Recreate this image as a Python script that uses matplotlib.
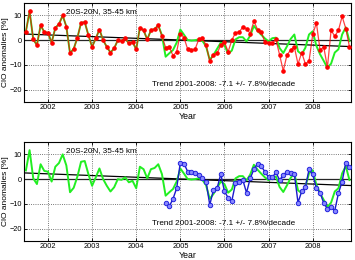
import matplotlib
matplotlib.use('Agg')
import matplotlib.pyplot as plt
import numpy as np

plt.rcParams['font.family'] = ['Liberation Sans', 'DejaVu Sans']

# monthly time axis (decimal years)
START_YEAR = 2001.5
N_MONTHS = 89
years = START_YEAR + np.arange(N_MONTHS) / 12.0

# top panel, red series
red_vals = [3.5, 11.7, 0.3, -2, 6, 3.3, 3, -1, 5, 6.5,
            10, 5.5, -5.3, -3.5, 1, 7, 7.3, 2, -2.7, 0.7,
            4.3, 0, -2.7, -5, -3.3, 0, -0.3, 0.7, -1.3, -0.7,
            -3.7, 5, 4, 0.3, 4, 4.5, 6, 1.6, -3, -2.7,
            -6.3, -4.7,
            2.7, 1, -3.7, -4, -3.7, 0.3, 0.7, -2, -8.4, -6,
            -5.3, -2, -0.7, -4.7, 0, 3, 3.3, 5.3, 4.7, 2.7,
            7.7, 4.3, 3.3, -0.8, -1, -1.3, 0.3, -6, -12.4, -6,
            -4, -2.7, -9.7, -5, -9.6, -8.5, 2.3, 7, -4, -2.7,
            -11, 4, 1.6, 4, 9.6, 4.7, -2.7]

# green series (both panels)
green_vals = [3.5, 11.7, 0.3, -2, 6, 3.3, 3, -1, 5, 6.5,
              10, 5.5, -5.3, -3.5, 1, 7, 7.3, 2, -2.7, 0.7,
              4.3, 0, -2.7, -5, -3.3, 0, -0.3, 0.7, -1.3, -0.7,
              -3.7, 5, 4, 0.3, 4, 4.5, 6, 2, -6.7, -5.3,
              -4, -1,
              4.3, 2.2, 0, -0.2, 0, 0.3, -0.3, -2.5, -8, -6,
              -3.5, -1, -2, -5.5, -4.2, 0.3, 1.2, 1.2, -0.5, 1.8,
              5.8, 3.8, 2.2, 0.7, -0.5, 0.8, 1, -3.2, -5.2, -2.5,
              0.5, 2.3, -4.5, -5.7, -3.1, 2.3, 3.6, -2.3, -5.7, -8.4,
              -11.2, -9.5, -5, -3.7, 2.3, 5.2, -0.4]

# bottom panel, blue series (starts later)
BLUE_START = 38
blue_vals = [-9.7, -11, -8, -3.7,
             6.7, 6.3, 3, 2.8, 2.6, 1.7, 0.3, -1, -10.4, -4.4,
             -3.7, 2.1, -5, -7.5, -8.8, -1.7, -1, -0.4, -5.5, 0.3,
             3.9, 6.3, 5.2, 3, 0.7, 0.7, 2.7, -0.4, 1.6, 3,
             2.3, 2.1, -9.5, -5, -3.3, 3.9, 1.9, -3.7, -5.5, -9.7,
             -12, -11.3, -12.7, -5.7, -1, 6.7, 4.7]

# trend line end points
trend_x = [2001.46, 2008.87]
trend_y = [2.5, -2.6]

region_label = '20S-20N, 35-45 km'
trend_label = 'Trend 2001-2008: -7.1 +/- 7.8%/decade'
xticks = [2002, 2003, 2004, 2005, 2006, 2007, 2008]
yticks = [-20, -10, 0, 10]

fig = plt.figure(figsize=(3.55, 2.60), dpi=100)
ax1 = fig.add_axes([0.068, 0.608, 0.921, 0.380])
ax2 = fig.add_axes([0.068, 0.073, 0.921, 0.381])


def style(ax):
    ax.set_xlim(2001.46, 2008.87)
    ax.set_ylim(-25, 15)
    ax.set_xticks(xticks)
    ax.set_yticks(yticks)
    ax.tick_params(direction='in', length=2, width=0.6, labelsize=5.3,
                   top=True, right=True, pad=1.5)
    ax.grid(True, ls=':', color='0.3', lw=0.6)
    for s in ax.spines.values():
        s.set_linewidth(0.8)
    ax.set_xlabel('Year', fontsize=6.3, labelpad=1)
    ax.set_ylabel('ClO anomalies [%]', fontsize=6.0, labelpad=0.5)
    ax.axhline(0, color='0.15', lw=0.9, zorder=2)
    ax.plot(trend_x, trend_y, color='black', lw=0.9, zorder=2)
    ax.text(2003.2, 11.6, region_label, fontsize=5.9, ha='center', va='center')
    ax.text(2004.36, -17.8, trend_label, fontsize=5.9, ha='left', va='center')


style(ax1)
ax1.plot(years, green_vals, color='#22ee22', lw=1.4, zorder=3)
ax1.plot(years, red_vals, color='red', lw=0.9, alpha=0.75, zorder=4)
ax1.plot(years, red_vals, ls='none', marker='o', ms=2.3, color='red',
         mec='red', zorder=5)

style(ax2)
ax2.plot(years, green_vals, color='#22ee22', lw=1.4, zorder=3)
ax2.plot(years[BLUE_START:], blue_vals, color='#1a1acc', lw=1.0, zorder=4,
         marker='o', ms=3.2, mfc='#8888ff', mec='#2222dd', mew=0.7)

fig.savefig('out.png', dpi=100)
